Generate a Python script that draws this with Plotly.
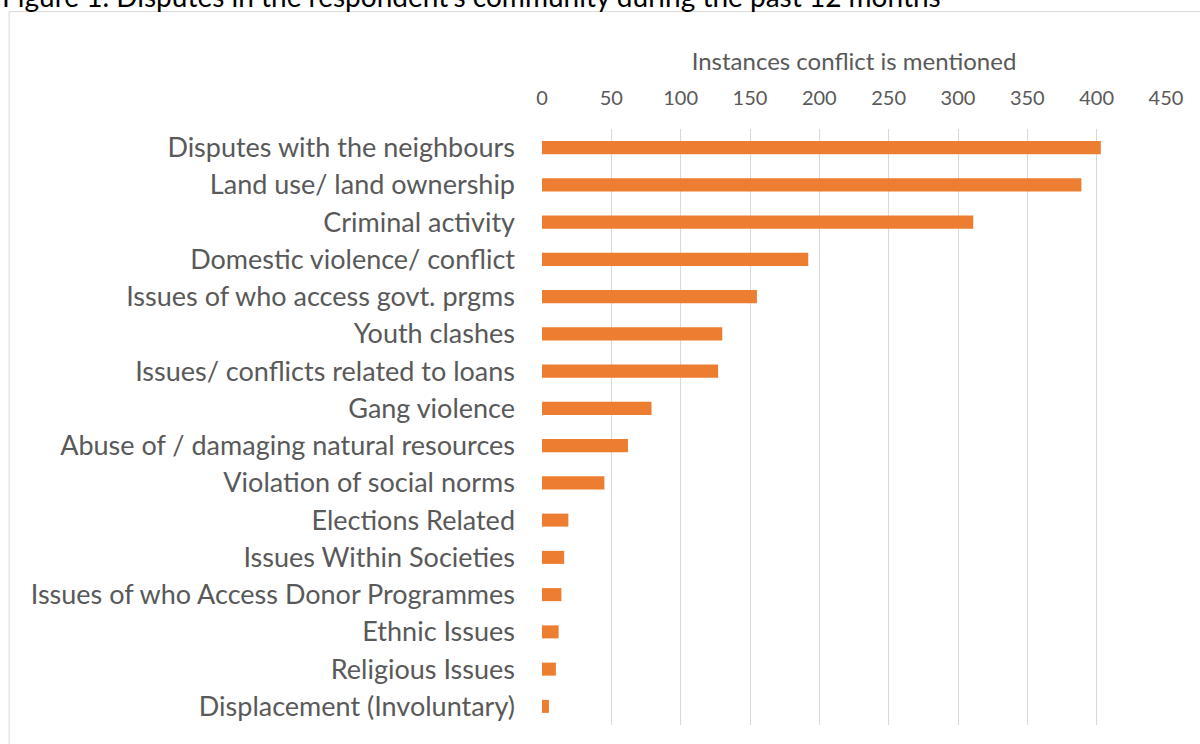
import plotly.graph_objects as go

# Dispute categories, listed top to bottom
categories = [
    "Disputes with the neighbours",
    "Land use/ land ownership",
    "Criminal activity",
    "Domestic violence/ conflict",
    "Issues of who access govt. prgms",
    "Youth clashes",
    "Issues/ conflicts related to loans",
    "Gang violence",
    "Abuse of / damaging natural resources",
    "Violation of social norms",
    "Elections Related",
    "Issues Within Societies",
    "Issues of who Access Donor Programmes",
    "Ethnic Issues",
    "Religious Issues",
    "Displacement (Involuntary)",
]
mentions = [403, 389, 311, 192, 155, 130, 127, 79, 62, 45, 19, 16, 14, 12, 10, 5]
tick_values = [0, 50, 100, 150, 200, 250, 300, 350, 400, 450]

FONT = "Lato"
GREY = "#595959"

fig = go.Figure(
    go.Bar(
        x=mentions,
        y=categories,
        orientation="h",
        marker=dict(color="#ED7D31", line=dict(width=0)),
        width=0.35,
    )
)

fig.update_layout(
    width=1200,
    height=744,
    margin=dict(l=542, r=34, t=129, b=19),
    paper_bgcolor="white",
    plot_bgcolor="white",
    showlegend=False,
    font=dict(family=FONT, color=GREY),
    xaxis=dict(
        side="top",
        range=[0, 450],
        tickvals=tick_values,
        ticks="",
        showgrid=True,
        gridcolor="#D9D9D9",
        gridwidth=1,
        zeroline=False,
        showline=False,
        tickfont=dict(size=20, color=GREY),
        ticklabelstandoff=19,
        title=dict(text="Instances conflict is mentioned",
                   font=dict(size=24, color=GREY), standoff=7),
    ),
    yaxis=dict(
        autorange="reversed",
        ticks="",
        showgrid=False,
        zeroline=False,
        showline=False,
        tickfont=dict(size=27, color=GREY),
        ticklabelstandoff=26,
    ),
    shapes=[
        # chart frame (left and top edges visible)
        dict(type="line", xref="paper", yref="paper",
             x0=-0.854, x1=1.1, y0=1.197, y1=1.197,
             line=dict(color="#D9D9D9", width=1)),
        dict(type="line", xref="paper", yref="paper",
             x0=-0.854, x1=-0.854, y0=1.197, y1=-0.1,
             line=dict(color="#D9D9D9", width=1)),
    ],
    annotations=[
        dict(text="Figure 1. Disputes in the respondent\u2019s community during the past 12 months",
             xref="paper", yref="paper", x=-0.869, y=1.1905, xanchor="left", yanchor="bottom",
             showarrow=False, font=dict(size=28, color="#000000", family=FONT)),
    ],
)

fig.write_html("out.html")
